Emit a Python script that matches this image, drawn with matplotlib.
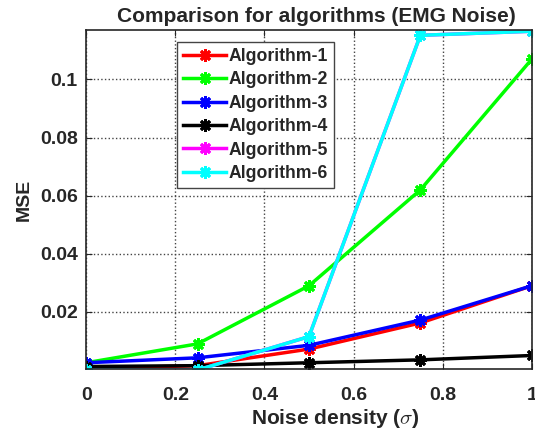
import numpy as np
import matplotlib
matplotlib.use('Agg')
from matplotlib import pyplot as plt

plt.rcParams['font.family'] = ['Liberation Sans', 'DejaVu Sans']
plt.rcParams['font.weight'] = 'bold'
plt.rcParams['mathtext.fontset'] = 'cm'
plt.rcParams['text.color'] = '#262626'
plt.rcParams['axes.labelcolor'] = '#262626'
plt.rcParams['xtick.color'] = '#262626'
plt.rcParams['ytick.color'] = '#262626'

noise = [0, 0.25, 0.5, 0.75, 1.0]
alg1 = [0.0005, 0.0015, 0.0072, 0.0162, 0.0290]
alg2 = [0.0025, 0.0090, 0.0290, 0.0620, 0.1070]
alg3 = [0.0025, 0.0042, 0.0085, 0.0172, 0.0290]
alg4 = [0.0012, 0.0015, 0.0025, 0.0035, 0.0050]
alg5 = [0.0000, 0.0000, 0.0115, 0.1152, 0.1166]
alg6 = [0.0000, 0.0000, 0.0115, 0.1152, 0.1166]
names = ['Algorithm-1', 'Algorithm-2', 'Algorithm-3', 'Algorithm-4', 'Algorithm-5', 'Algorithm-6']
colors = ['#ff0000', '#00ff00', '#0000ff', '#000000', '#ff00ff', '#00ffff']

fig = plt.figure(figsize=(5.35, 4.36), dpi=100)
ax = fig.add_axes([0.161, 0.154, 0.833, 0.777])

for y, name, c in zip([alg1, alg2, alg3, alg4, alg5, alg6], names, colors):
    ax.plot(noise, y, color=c, lw=2.5, marker=(8, 2, 0), ms=9, mew=2, label=name)

ax.set_xlim(0, 1)
ax.set_ylim(0.0004, 0.117)
ax.set_xticks([0, 0.2, 0.4, 0.6, 0.8, 1])
ax.set_xticklabels(['0', '0.2', '0.4', '0.6', '0.8', '1'])
ax.set_yticks([0.02, 0.04, 0.06, 0.08, 0.1])
ax.set_yticklabels(['0.02', '0.04', '0.06', '0.08', '0.1'])
ax.tick_params(direction='in', top=True, right=True, labelsize=14, length=4, pad=6)
ax.tick_params(axis='x', pad=13)
ax.grid(True, linestyle=':', color='#444444', lw=1)
for s in ax.spines.values():
    s.set_linewidth(1.2)
    s.set_color('#262626')

ax.set_xlabel(r'Noise density ($\sigma$)', fontsize=15, fontweight='bold')
ax.xaxis.set_label_coords(0.558, -0.112)
ax.set_ylabel('MSE', fontsize=14, fontweight='bold')
ax.yaxis.set_label_coords(-0.119, 0.5)
ax.set_title('Comparison for algorithms (EMG Noise)', fontsize=15, fontweight='bold', pad=6, x=0.516)

leg = ax.legend(loc='upper left', bbox_to_anchor=(0.204, 0.965), borderaxespad=0, fontsize=12.7,
                fancybox=False, edgecolor='#444444', framealpha=1, handlelength=2.45,
                borderpad=0.35, labelspacing=0.36, handletextpad=0.1)
leg.get_frame().set_linewidth(1)

fig.savefig('out.png', dpi=100)
